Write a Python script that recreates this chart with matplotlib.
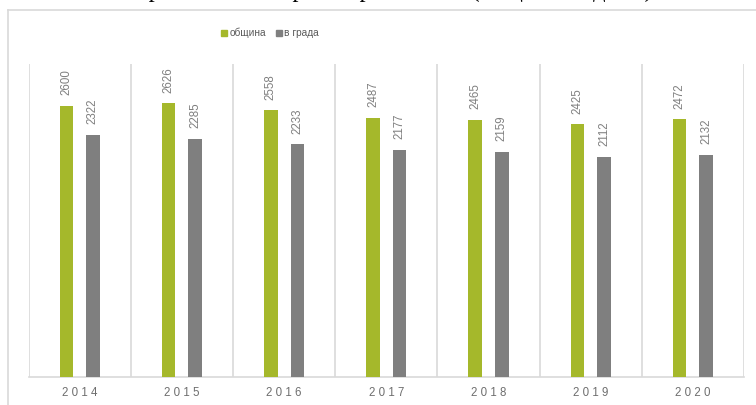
import matplotlib
matplotlib.use("Agg")
import matplotlib.pyplot as plt
from matplotlib.lines import Line2D
from matplotlib.font_manager import FontProperties
import numpy as np

years = ["2014", "2015", "2016", "2017", "2018", "2019", "2020"]
obshtina = [2600, 2626, 2558, 2487, 2465, 2425, 2472]
v_grada = [2322, 2285, 2233, 2177, 2159, 2112, 2132]
series_names = ["община", "в града"]
title_text = "Население в сравнение на брой спрямо 2014 (общо по години)"

GREEN = "#A5B82B"
GRAY = "#7F7F7F"
LINE = "#D9D9D9"
TXT = "#7F7F7F"

W, H = 756, 405
fig = plt.figure(figsize=(W / 100, H / 100), dpi=100)
renderer = fig.canvas.get_renderer()

# outer chart border (cropped chart box)
fig.add_artist(Line2D([8 / W, 8 / W], [0, 1 - 10 / H], color=LINE, lw=1.2, transform=fig.transFigure))
fig.add_artist(Line2D([8 / W, 1], [1 - 10 / H, 1 - 10 / H], color=LINE, lw=1.2, transform=fig.transFigure))

# cut-off document heading above the chart (only the lowest part is visible)
serif = ["Liberation Serif", "DejaVu Serif"]
def wpx(s, size):
    fp = FontProperties(family=serif, size=size)
    return renderer.get_text_width_height_descent(s, fp, ismath=False)[0]
i1 = title_text.index("р")
i2 = title_text.index(")")
base = 20.0
c1 = wpx(title_text[:i1], base) + wpx("р", base) / 2
c2 = wpx(title_text[:i2], base) + wpx(")", base) / 2
fs = base * (650 - 155) / (c2 - c1)
x0 = 155 - c1 * fs / base
fig.text(x0 / W, 1 + 3 / H, title_text, family=serif,
         fontsize=fs, ha="left", va="baseline", color="black")

left, right, top, bottom = 28.5, 744, 64, 377
ax = fig.add_axes([left / W, 1 - bottom / H, (right - left) / W, (bottom - top) / H])

x = np.arange(len(years))
off = 0.13
bw = 0.133
b1 = ax.bar(x - off, obshtina, width=bw, color=GREEN, zorder=3)
b2 = ax.bar(x + off, v_grada, width=bw, color=GRAY, zorder=3)

ax.set_xlim(-0.5, len(years) - 0.5)
ax.set_ylim(0, 3000)
for b in np.arange(-0.5, len(years), 1.0):
    ax.axvline(b, color=LINE, lw=1.2, zorder=1)

for s in ["top", "right", "left"]:
    ax.spines[s].set_visible(False)
ax.spines["bottom"].set_color(LINE)
ax.spines["bottom"].set_linewidth(1.2)
ax.set_yticks([])
ax.set_xticks(x)
ax.set_xticklabels([" ".join(y) for y in years], color="#6E6E6E", fontsize=8.3,
                   family=["Liberation Sans", "DejaVu Sans"])
ax.tick_params(axis="x", length=0, pad=7)

lab_font = ["Liberation Sans", "DejaVu Sans"]
for bars, vals in ((b1, obshtina), (b2, v_grada)):
    for rect, v in zip(bars, vals):
        ax.annotate(str(v), (rect.get_x() + rect.get_width() / 2, v), xytext=(0, 7.5),
                    textcoords="offset points", rotation=90, ha="center", va="bottom",
                    fontsize=8.3, color=TXT, family=lab_font)

handles = [Line2D([], [], marker="s", linestyle="none", markersize=5, color=GREEN),
           Line2D([], [], marker="s", linestyle="none", markersize=5, color=GRAY)]
fig.legend(handles, series_names, loc="center", bbox_to_anchor=(270 / W, 1 - 33 / H),
           ncol=2, frameon=False, handletextpad=0.25, columnspacing=1.0,
           handlelength=0.5, labelcolor="#595959", prop={"family": lab_font, "size": 7.3})

fig.savefig("out.png", dpi=100)
